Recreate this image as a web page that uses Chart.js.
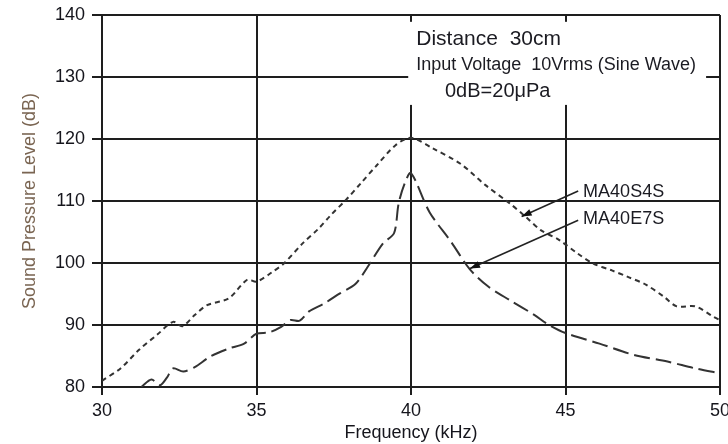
<!DOCTYPE html>
<html>
<head>
<meta charset="utf-8">
<script src="https://cdn.jsdelivr.net/npm/chart.js@4.4.1/dist/chart.umd.min.js"></script>
<style>
html,body{margin:0;padding:0;background:#fff;}
</style>
</head>
<body>
<canvas id="grafica" width="728" height="444"></canvas>
<script>
// eje x (kHz) y eje y (dB)
var frecuencias = [30, 35, 40, 45, 50];
var niveles = [80, 90, 100, 110, 120, 130, 140];

// MA40S4S (linea de trazos cortos)
var s4sFreq = [30, 30.6, 31.2, 31.8, 32.3, 32.6, 33, 33.4, 34.1, 34.7, 35, 35.5, 35.9, 36.5, 37, 37.4, 37.9, 38.4, 38.9, 39.5, 40, 40.7, 41.6, 42.4, 43.2, 43.7, 44.2, 44.8, 45.4, 45.9, 46.5, 47, 47.6, 48.2, 48.6, 49.2, 49.8, 50];
var s4sDb   = [81, 83, 86, 88.5, 90.5, 89.8, 91.6, 93.2, 94.3, 97.3, 97, 98.5, 100, 103.2, 105.5, 107.7, 110.2, 113, 115.8, 119, 120.2, 118.5, 116, 112.6, 109.6, 107.5, 105.3, 103.7, 101.5, 99.9, 98.8, 97.8, 96.5, 94.5, 93, 93, 91.3, 90.8];

// MA40E7S (linea de trazos largos)
var e7sFreq = [31.27, 31.6, 31.88, 32.1, 32.3, 32.63, 33, 33.5, 34.1, 34.6, 35, 35.4, 35.8, 36.1, 36.4, 36.7, 37.2, 37.7, 38.2, 38.6, 39.1, 39.45, 39.6, 39.8, 40, 40.6, 41.3, 41.9, 42.5, 43.2, 44, 44.4, 45, 46.1, 47.2, 48.3, 49.2, 50];
var e7sDb   = [80, 81.2, 80.3, 81.5, 83, 82.5, 83.2, 84.9, 86.2, 87, 88.6, 88.8, 89.7, 90.8, 90.7, 92.2, 93.5, 95.1, 96.6, 99.4, 103.2, 104.8, 109.6, 112.9, 114.5, 108.2, 103.4, 99, 96.2, 94, 91.6, 90.2, 88.7, 87, 85.2, 84.1, 83, 82.2];

var textos = ['Distance  30cm', 'Input Voltage  10Vrms (Sine Wave)', '0dB=20\u03bcPa'];

function puntos(xs, ys)
{
  var arr = [];
  for (var i = 0; i < xs.length; i++) arr.push({x: xs[i], y: ys[i]});
  return arr;
}

function flecha(ctx, x0, y0, x1, y1)
{
  ctx.beginPath();
  ctx.moveTo(x0, y0);
  ctx.lineTo(x1, y1);
  ctx.stroke();
  var ang = Math.atan2(y1 - y0, x1 - x0);
  var L = 10, W = 3.5;
  ctx.beginPath();
  ctx.moveTo(x1, y1);
  ctx.lineTo(x1 - L * Math.cos(ang) + W * Math.sin(ang), y1 - L * Math.sin(ang) - W * Math.cos(ang));
  ctx.lineTo(x1 - L * Math.cos(ang) - W * Math.sin(ang), y1 - L * Math.sin(ang) + W * Math.cos(ang));
  ctx.closePath();
  ctx.fill();
}

var notas = {
  id: 'notas',
  afterDatasetsDraw: function(chart)
  {
    var ctx = chart.ctx, sx = chart.scales.x, sy = chart.scales.y;
    ctx.save();
    // recuadro blanco con las condiciones
    var x1 = sx.getPixelForValue(39.91), x2 = sx.getPixelForValue(49.55);
    var y1 = sy.getPixelForValue(138.9), y2 = sy.getPixelForValue(125.5);
    ctx.fillStyle = '#fff';
    ctx.fillRect(x1, y1, x2 - x1, y2 - y1);

    ctx.fillStyle = '#1b1b22';
    ctx.textBaseline = 'middle';
    ctx.textAlign = 'left';
    ctx.font = '21px "Liberation Sans", Arial, sans-serif';
    ctx.fillText(textos[0], sx.getPixelForValue(40.17), sy.getPixelForValue(136.1));
    ctx.font = '18px "Liberation Sans", Arial, sans-serif';
    ctx.fillText(textos[1], sx.getPixelForValue(40.17), sy.getPixelForValue(131.9));
    ctx.font = '20px "Liberation Sans", Arial, sans-serif';
    ctx.fillText(textos[2], sx.getPixelForValue(41.1), sy.getPixelForValue(127.6));

    // etiquetas de las curvas
    ctx.font = '18px "Liberation Sans", Arial, sans-serif';
    ctx.fillText('MA40S4S', sx.getPixelForValue(45.57), sy.getPixelForValue(111.5));
    ctx.fillText('MA40E7S', sx.getPixelForValue(45.57), sy.getPixelForValue(107.1));

    ctx.strokeStyle = '#222';
    ctx.fillStyle = '#111';
    ctx.lineWidth = 1.6;
    flecha(ctx, sx.getPixelForValue(45.41), sy.getPixelForValue(111.6), sx.getPixelForValue(43.58), sy.getPixelForValue(107.5));
    flecha(ctx, sx.getPixelForValue(45.41), sy.getPixelForValue(106.9), sx.getPixelForValue(41.91), sy.getPixelForValue(99.1));
    ctx.restore();
  }
};

var fuente = '"Liberation Sans", Arial, sans-serif';

var chart = new Chart(document.getElementById('grafica'), {
  type: 'scatter',
  data: {
    datasets: [
      {
        label: 'MA40S4S',
        data: puntos(s4sFreq, s4sDb),
        showLine: true,
        borderColor: '#333',
        borderWidth: 2,
        borderDash: [5, 4],
        pointRadius: 0,
        tension: 0.3,
        clip: 0
      },
      {
        label: 'MA40E7S',
        data: puntos(e7sFreq, e7sDb),
        showLine: true,
        borderColor: '#333',
        borderWidth: 2,
        borderDash: [16, 6],
        pointRadius: 0,
        tension: 0.3,
        clip: 0
      }
    ]
  },
  options: {
    responsive: false,
    animation: false,
    layout: { padding: { top: 15, right: 8, left: 0, bottom: 0 } },
    plugins: {
      legend: { display: false },
      tooltip: { enabled: false }
    },
    scales: {
      x: {
        type: 'linear',
        min: 30,
        max: 50,
        afterBuildTicks: function(scale) {
          scale.ticks = frecuencias.map(function(v) { return {value: v}; });
        },
        afterFit: function(scale) {
          scale.height = 57;
          scale.paddingLeft = 0;
          scale.paddingRight = 0;
        },
        grid: { color: '#1e1e1e', lineWidth: 2, tickLength: 8 },
        border: { color: '#1e1e1e', width: 2 },
        ticks: { color: '#15151c', padding: 5, font: { family: fuente, size: 18 }, maxRotation: 0 },
        title: { display: true, text: 'Frequency (kHz)', color: '#15151c', font: { family: fuente, size: 18 }, padding: { top: 0, bottom: 0 } }
      },
      y: {
        type: 'linear',
        min: 80,
        max: 140,
        afterBuildTicks: function(scale) {
          scale.ticks = niveles.map(function(v) { return {value: v}; });
        },
        afterFit: function(scale) {
          scale.width = 102;
          scale.paddingTop = 0;
          scale.paddingBottom = 0;
        },
        grid: { color: '#1e1e1e', lineWidth: 2, tickLength: 10 },
        border: { color: '#1e1e1e', width: 2 },
        ticks: { color: '#15151c', padding: 7, font: { family: fuente, size: 18 } },
        title: { display: true, text: 'Sound Pressure Level (dB)', color: '#7a6552', font: { family: fuente, size: 18 }, padding: { top: 19, bottom: 0 } }
      }
    }
  },
  plugins: [notas]
});
</script>
</body>
</html>
